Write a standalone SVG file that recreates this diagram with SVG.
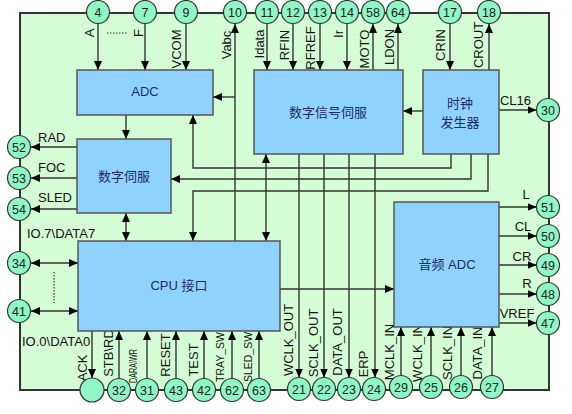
<svg xmlns="http://www.w3.org/2000/svg" width="572" height="414" viewBox="0 0 572 414">
<defs>
<marker id="ah" markerWidth="9" markerHeight="8" refX="9" refY="4" orient="auto" markerUnits="userSpaceOnUse"><path d="M0,0 L9,4 L0,8 Z" fill="#000"/></marker>
<marker id="as" markerWidth="9" markerHeight="8" refX="0" refY="4" orient="auto" markerUnits="userSpaceOnUse"><path d="M9,0 L0,4 L9,8 Z" fill="#000"/></marker>
<style>
.blk{fill:#8fd3fd;stroke:#555;stroke-width:1.5}
.pin{fill:#8ff7c6;stroke:#333;stroke-width:1.2}
.pn{font-family:"Liberation Sans",Arial,sans-serif;font-size:12.5px;fill:#222;text-anchor:middle}
.bt{font-family:"Liberation Sans","Noto Sans CJK SC",sans-serif;font-size:13px;fill:#1e2a66;text-anchor:middle}
.lb{font-family:"Liberation Sans",Arial,sans-serif;font-size:13px;fill:#111}
.c{fill:none;stroke:#333;stroke-width:1.4}
.ca{fill:none;stroke:#333;stroke-width:1.4;marker-end:url(#ah)}
.cd{fill:none;stroke:#333;stroke-width:1.4;marker-end:url(#ah);marker-start:url(#as)}
</style>
</defs>
<rect width="572" height="414" fill="#fff"/>
<rect id="frame" x="20" y="13" width="529" height="377" fill="#d5fdd5" stroke="#333" stroke-width="2"/>

<g id="connectors">
<line class="ca" x1="98" y1="24" x2="98" y2="70"/>
<line class="ca" x1="145" y1="24" x2="145" y2="70"/>
<line class="ca" x1="186" y1="24" x2="186" y2="70"/>
<line class="ca" x1="235" y1="241" x2="235" y2="24"/>
<line class="ca" x1="235" y1="97" x2="213" y2="97"/>
<line class="ca" x1="267" y1="24" x2="267" y2="70"/>
<line class="ca" x1="293" y1="24" x2="293" y2="70"/>
<line class="ca" x1="320" y1="24" x2="320" y2="70"/>
<line class="ca" x1="347" y1="24" x2="347" y2="70"/>
<line class="ca" x1="373" y1="70" x2="373" y2="24"/>
<line class="ca" x1="398" y1="70" x2="398" y2="24"/>
<line class="ca" x1="450" y1="24" x2="450" y2="70"/>
<line class="ca" x1="489" y1="70" x2="489" y2="24"/>
<line class="ca" x1="499" y1="110" x2="536.5" y2="110"/>
<line class="ca" x1="423" y1="111" x2="403" y2="111"/>
<line class="ca" x1="126" y1="115" x2="126" y2="139"/>
<path class="ca" d="M451,154 V168 H193 V115"/>
<path class="ca" d="M471,154 V179 H171"/>
<path class="ca" d="M488,154 V191 H193 V241"/>
<line class="cd" x1="266" y1="154" x2="266" y2="241"/>
<line class="cd" x1="126" y1="213" x2="126" y2="241"/>
<line class="ca" x1="77" y1="147" x2="31" y2="147"/>
<line class="ca" x1="77" y1="178" x2="31" y2="178"/>
<line class="ca" x1="77" y1="209" x2="31" y2="209"/>
<line class="cd" x1="31" y1="263" x2="78" y2="263"/>
<line class="cd" x1="31" y1="311" x2="78" y2="311"/>
<line x1="54" y1="272" x2="54" y2="303" stroke="#333" stroke-width="1.2" stroke-dasharray="1.5,1.5"/>
<line x1="107" y1="33" x2="127" y2="33" stroke="#333" stroke-width="1.2" stroke-dasharray="1.5,1.5"/>
<line class="ca" x1="299" y1="154" x2="299" y2="377.5"/>
<line class="ca" x1="324" y1="154" x2="324" y2="377.5"/>
<line class="ca" x1="349" y1="154" x2="349" y2="377.5"/>
<line class="ca" x1="375" y1="154" x2="375" y2="377.5"/>
<line class="ca" x1="92" y1="331" x2="92" y2="378"/>
<line class="ca" x1="119" y1="378.5" x2="119" y2="331"/>
<line class="ca" x1="147" y1="378.5" x2="147" y2="331"/>
<line class="ca" x1="176" y1="378.5" x2="176" y2="331"/>
<line class="ca" x1="204" y1="378.5" x2="204" y2="331"/>
<line class="ca" x1="232" y1="378.5" x2="232" y2="331"/>
<line class="ca" x1="259" y1="378.5" x2="259" y2="331"/>
<line class="ca" x1="280" y1="289" x2="394" y2="289"/>
<line class="ca" x1="401" y1="375.5" x2="401" y2="327"/>
<line class="ca" x1="431" y1="375.5" x2="431" y2="327"/>
<line class="ca" x1="461" y1="375.5" x2="461" y2="327"/>
<line class="ca" x1="492" y1="375.5" x2="492" y2="327"/>
<line class="ca" x1="499" y1="207" x2="536.5" y2="207"/>
<line class="ca" x1="499" y1="236" x2="536.5" y2="236"/>
<line class="ca" x1="499" y1="265" x2="536.5" y2="265"/>
<line class="ca" x1="499" y1="294" x2="536.5" y2="294"/>
<line class="ca" x1="499" y1="323" x2="536.5" y2="323"/>
</g>

<g id="labels">
<g class="lb" text-anchor="middle">
<text transform="translate(89,33) rotate(-90)" dy="0.35em">A</text>
<text transform="translate(138,33) rotate(-90)" dy="0.35em">F</text>
<text transform="translate(176,49) rotate(-90)" dy="0.35em">VCOM</text>
<text transform="translate(226,45) rotate(-90)" dy="0.35em">Vabc</text>
<text transform="translate(259,44) rotate(-90)" dy="0.35em">Idata</text>
<text transform="translate(284,45) rotate(-90)" dy="0.35em">RFIN</text>
<text transform="translate(310,48) rotate(-90)" dy="0.35em">RFREF</text>
<text transform="translate(338,34) rotate(-90)" dy="0.35em">Ir</text>
<text transform="translate(364,49) rotate(-90)" dy="0.35em">MOTO</text>
<text transform="translate(389,47) rotate(-90)" dy="0.35em">LDON</text>
<text transform="translate(440,45) rotate(-90)" dy="0.35em">CRIN</text>
<text transform="translate(478,45) rotate(-90)" dy="0.35em">CROUT</text>
<text transform="translate(82,368) rotate(-90)" dy="0.35em">ACK</text>
<text transform="translate(108,353) rotate(-90)" dy="0.35em">STB\RD</text>
<text transform="translate(133,366) rotate(-90)" dy="0.35em" font-size="10" textLength="34" lengthAdjust="spacingAndGlyphs">DARA\WR</text>
<text transform="translate(165,355) rotate(-90)" dy="0.35em">RESET</text>
<text transform="translate(193,360) rotate(-90)" dy="0.35em">TEST</text>
<text transform="translate(220,357) rotate(-90)" dy="0.35em" font-size="10.5">TRAY_SW</text>
<text transform="translate(248,357) rotate(-90)" dy="0.35em" font-size="10.5">SLED_SW</text>
<text transform="translate(288,340) rotate(-90)" dy="0.35em">WCLK_OUT</text>
<text transform="translate(313,343) rotate(-90)" dy="0.35em">SCLK_OUT</text>
<text transform="translate(337,342) rotate(-90)" dy="0.35em">DATA_OUT</text>
<text transform="translate(363,364) rotate(-90)" dy="0.35em">ERP</text>
<text transform="translate(389,352) rotate(-90)" dy="0.35em">MCLK_IN</text>
<text transform="translate(417,353) rotate(-90)" dy="0.35em">WCLK_IN</text>
<text transform="translate(447,353) rotate(-90)" dy="0.35em">SCLK_IN</text>
<text transform="translate(477,353) rotate(-90)" dy="0.35em">DATA_IN</text>
<text x="526" y="199">L</text>
<text x="523" y="231">CL</text>
<text x="522" y="261">CR</text>
<text x="527" y="288">R</text>
<text x="517" y="318">VREF</text>
<text x="515.5" y="105">CL16</text>
</g>
<g class="lb">
<text x="38" y="142">RAD</text>
<text x="38" y="172">FOC</text>
<text x="38" y="202">SLED</text>
<text x="27" y="238">IO.7\DATA7</text>
<text x="22" y="346">IO.0\DATA0</text>
</g>
</g>

<g id="adc"><rect class="blk" x="77" y="70" width="136" height="45"/><text class="bt" x="145" y="96">ADC</text></g>
<g id="dss"><rect class="blk" x="254" y="70" width="149" height="84"/><text class="bt" x="328" y="117">数字信号伺服</text></g>
<g id="clock"><rect class="blk" x="423" y="70" width="76" height="84"/><text class="bt" x="460" y="108">时钟</text><text class="bt" x="460" y="127">发生器</text></g>
<g id="ds"><rect class="blk" x="77" y="139" width="94" height="74"/><text class="bt" x="124" y="181">数字伺服</text></g>
<g id="cpu"><rect class="blk" x="78" y="241" width="202" height="90"/><text class="bt" x="179" y="290">CPU 接口</text></g>
<g id="audio"><rect class="blk" x="394" y="202" width="105" height="125"/><text class="bt" x="447" y="269">音频 ADC</text></g>

<g id="pin4"><circle class="pin" cx="98" cy="12" r="11.5"/><text class="pn" x="98" y="16.5">4</text></g>
<g id="pin7"><circle class="pin" cx="145" cy="12" r="11.5"/><text class="pn" x="145" y="16.5">7</text></g>
<g id="pin9"><circle class="pin" cx="186" cy="12" r="11.5"/><text class="pn" x="186" y="16.5">9</text></g>
<g id="pin10"><circle class="pin" cx="235" cy="12" r="11.5"/><text class="pn" x="235" y="16.5">10</text></g>
<g id="pin11"><circle class="pin" cx="267" cy="12" r="11.5"/><text class="pn" x="267" y="16.5">11</text></g>
<g id="pin12"><circle class="pin" cx="293" cy="12" r="11.5"/><text class="pn" x="293" y="16.5">12</text></g>
<g id="pin13"><circle class="pin" cx="320" cy="12" r="11.5"/><text class="pn" x="320" y="16.5">13</text></g>
<g id="pin14"><circle class="pin" cx="347" cy="12" r="11.5"/><text class="pn" x="347" y="16.5">14</text></g>
<g id="pin58"><circle class="pin" cx="373" cy="12" r="11.5"/><text class="pn" x="373" y="16.5">58</text></g>
<g id="pin64"><circle class="pin" cx="398" cy="12" r="11.5"/><text class="pn" x="398" y="16.5">64</text></g>
<g id="pin17"><circle class="pin" cx="450" cy="12" r="11.5"/><text class="pn" x="450" y="16.5">17</text></g>
<g id="pin18"><circle class="pin" cx="489" cy="12" r="11.5"/><text class="pn" x="489" y="16.5">18</text></g>
<g id="pin30"><circle class="pin" cx="548" cy="110" r="11.5"/><text class="pn" x="548" y="114.5">30</text></g>
<g id="pin51"><circle class="pin" cx="548" cy="207" r="11.5"/><text class="pn" x="548" y="211.5">51</text></g>
<g id="pin50"><circle class="pin" cx="548" cy="236" r="11.5"/><text class="pn" x="548" y="240.5">50</text></g>
<g id="pin49"><circle class="pin" cx="548" cy="265" r="11.5"/><text class="pn" x="548" y="269.5">49</text></g>
<g id="pin48"><circle class="pin" cx="548" cy="294" r="11.5"/><text class="pn" x="548" y="298.5">48</text></g>
<g id="pin47"><circle class="pin" cx="548" cy="323" r="11.5"/><text class="pn" x="548" y="327.5">47</text></g>
<g id="pin52"><circle class="pin" cx="19" cy="147" r="11.5"/><text class="pn" x="19" y="151.5">52</text></g>
<g id="pin53"><circle class="pin" cx="19" cy="178" r="11.5"/><text class="pn" x="19" y="182.5">53</text></g>
<g id="pin54"><circle class="pin" cx="19" cy="209" r="11.5"/><text class="pn" x="19" y="213.5">54</text></g>
<g id="pin34"><circle class="pin" cx="19" cy="263" r="11.5"/><text class="pn" x="19" y="267.5">34</text></g>
<g id="pin41"><circle class="pin" cx="19" cy="311" r="11.5"/><text class="pn" x="19" y="315.5">41</text></g>
<g id="pinACK"><circle class="pin" cx="92" cy="390" r="12"/></g>
<g id="pin32"><circle class="pin" cx="119" cy="390" r="11.5"/><text class="pn" x="119" y="394.5">32</text></g>
<g id="pin31"><circle class="pin" cx="147" cy="390" r="11.5"/><text class="pn" x="147" y="394.5">31</text></g>
<g id="pin43"><circle class="pin" cx="176" cy="390" r="11.5"/><text class="pn" x="176" y="394.5">43</text></g>
<g id="pin42"><circle class="pin" cx="204" cy="390" r="11.5"/><text class="pn" x="204" y="394.5">42</text></g>
<g id="pin62"><circle class="pin" cx="232" cy="390" r="11.5"/><text class="pn" x="232" y="394.5">62</text></g>
<g id="pin63"><circle class="pin" cx="259" cy="390" r="11.5"/><text class="pn" x="259" y="394.5">63</text></g>
<g id="pin21"><circle class="pin" cx="299" cy="389" r="11.5"/><text class="pn" x="299" y="393.5">21</text></g>
<g id="pin22"><circle class="pin" cx="324" cy="389" r="11.5"/><text class="pn" x="324" y="393.5">22</text></g>
<g id="pin23"><circle class="pin" cx="349" cy="389" r="11.5"/><text class="pn" x="349" y="393.5">23</text></g>
<g id="pin24"><circle class="pin" cx="374" cy="389" r="11.5"/><text class="pn" x="374" y="393.5">24</text></g>
<g id="pin29"><circle class="pin" cx="401" cy="387" r="11.5"/><text class="pn" x="401" y="391.5">29</text></g>
<g id="pin25"><circle class="pin" cx="431" cy="387" r="11.5"/><text class="pn" x="431" y="391.5">25</text></g>
<g id="pin26"><circle class="pin" cx="461" cy="387" r="11.5"/><text class="pn" x="461" y="391.5">26</text></g>
<g id="pin27"><circle class="pin" cx="492" cy="387" r="11.5"/><text class="pn" x="492" y="391.5">27</text></g>
</svg>
